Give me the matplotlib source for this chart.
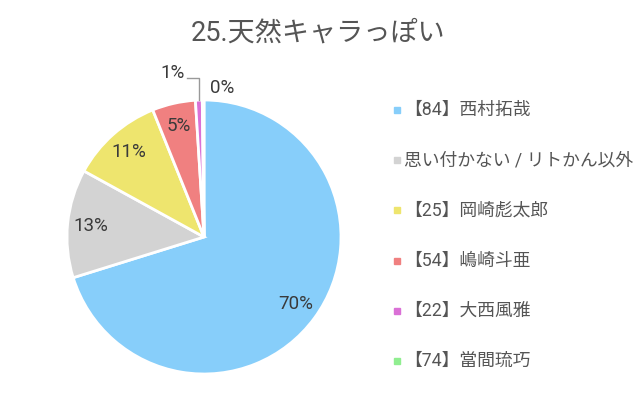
import matplotlib
matplotlib.use("Agg")
import matplotlib.pyplot as plt
import numpy as np

plt.rcParams['font.family'] = ['Roboto', 'Noto Sans CJK JP', 'DejaVu Sans']

# データ
title = "25.天然キャラっぽい"
labels = ["【84】西村拓哉", "思い付かない / リトかん以外", "【25】岡崎彪太郎",
          "【54】嶋崎斗亜", "【22】大西風雅", "【74】當間琉巧"]
values = [70.2, 12.8, 10.9, 5.1, 0.8, 0.2]
colors = ["#87CEFA", "#D3D3D3", "#EEE56E", "#F08080", "#DA70D6", "#90EE90"]

fig = plt.figure(figsize=(6.4, 4.04), dpi=100)
W, H = 640, 404

# 円グラフ (中心 204,237 / 半径 137 px)
cx, cy, r = 204, 237, 137
ax = fig.add_axes([(cx - r) / W, (H - cy - r) / H, 2 * r / W, 2 * r / H])
total = sum(values)
pct_style = dict(fontsize=13.5, color="#3a3a3a")

def pct_fmt(p):
  return "%d%%" % round(p) if p >= 2 else ""

wedges, _, autotexts = ax.pie(values, colors=colors, startangle=90, counterclock=False,
                              autopct=pct_fmt, pctdistance=0.83,
                              wedgeprops=dict(edgecolor="white", linewidth=2),
                              textprops=pct_style)
ax.set_xlim(-1, 1)
ax.set_ylim(-1, 1)
ax.set_aspect("equal")

# 小さいスライスのラベル
for i, w in enumerate(wedges):
  frac = values[i] / total * 100
  if frac >= 2:
    continue
  mid = np.deg2rad((w.theta1 + w.theta2) / 2)
  x, y = np.cos(mid), np.sin(mid)
  txt = "%d%%" % round(frac)
  if i == 4:
    ax.plot([x, x, x - 0.09], [y, 1.16, 1.16], color="#999999", lw=1, clip_on=False)
    ax.text(x - 0.1, 1.2, txt, ha="right", va="center", **pct_style)
  else:
    ax.text(x + 0.05, 1.09, txt, ha="left", va="center", **pct_style)

# タイトル
fig.text(318 / W, 1 - 33 / H, title, ha="center", va="center", fontsize=19.5, color="#555555")

# 凡例
for i, (lab, col) in enumerate(zip(labels, colors)):
  yy = 1 - (110 + 50.2 * i) / H
  fig.patches.append(plt.Rectangle((394 / W, yy - 3 / H), 6 / W, 6 / H, color=col,
                                   transform=fig.transFigure, figure=fig))
  fig.text(404 / W, yy, lab, ha="left", va="center", fontsize=12.8, color="#555555")

fig.savefig("out.png", dpi=100, facecolor="white")
